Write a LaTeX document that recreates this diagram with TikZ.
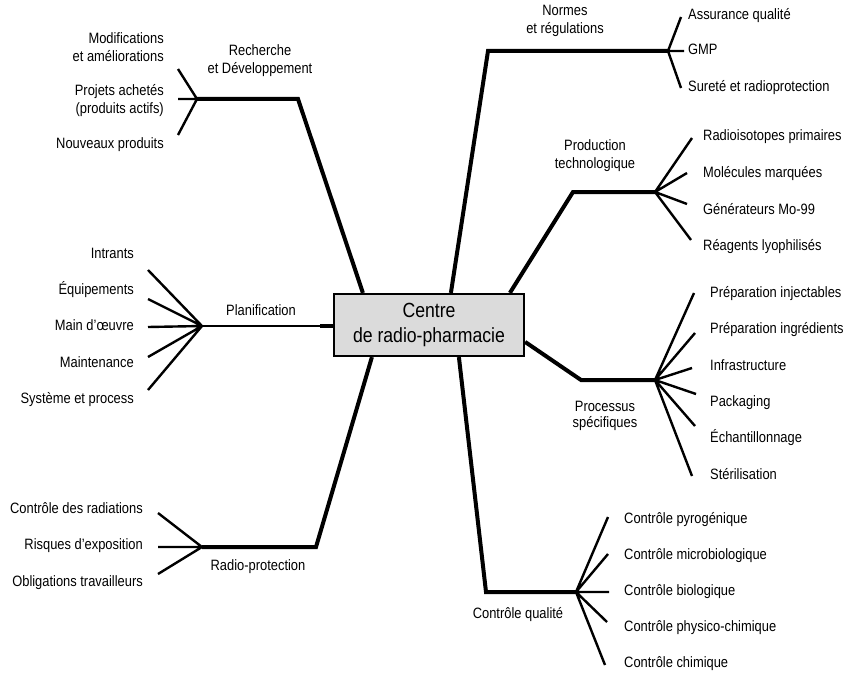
\documentclass[tikz,border=0pt]{standalone}
\usepackage{fontspec}
\setmainfont{Liberation Sans}[FakeStretch=0.86]
\usetikzlibrary{calc}
\begin{document}
\begin{tikzpicture}[x=1pt,y=-1pt,
  trunk/.style={line width=4pt, line join=miter},
  fan/.style={line width=2.4pt},
  lbl/.style={font=\fontsize{15}{18}\selectfont, inner sep=0pt},
  lblL/.style={lbl, anchor=mid east, align=right},
  lblR/.style={lbl, anchor=mid west, align=left},
  cat/.style={lbl, anchor=center, align=center}]
\useasboundingbox (0,0) rectangle (850,674);
% centre
\node[draw, fill=gray!28, line width=2.2pt, minimum width=190, minimum height=62,
      inner sep=0pt, align=center, font=\fontsize{20.5}{25}\selectfont] (C) at (429,325)
      {Centre\\de radio-pharmacie};

% ---------- Recherche et Developpement
\coordinate (rdB) at (298,99);
\coordinate (rdF) at (197,99);
\draw[trunk] ($(C.north west)+(30,0)$) -- (rdB) -- (rdF);
\coordinate (rd1) at (178,69);
\coordinate (rd2) at (178,99);
\coordinate (rd3) at (178,135);
\draw[fan] (rdF) -- (rd1) (rdF) -- (rd2) (rdF) -- (rd3);
\node[cat] (rdL) at (260,61) {Recherche\\et Développement};
\node[lbl, anchor=east, align=right] (rdt1) at (164,47) {Modifications\\et améliorations};
\node[lbl, anchor=east, align=right] (rdt2) at (164,101) {Projets achetés\\(produits actifs)};
\node[lblL] (rdt3) at (164,146) {Nouveaux produits};

% ---------- Normes et regulations
\coordinate (nrB) at (488,51);
\coordinate (nrF) at (668,51);
\draw[trunk] ($(C.north west)+(118,0)$) -- (nrB) -- (nrF);
\coordinate (nr1) at (681,17);
\coordinate (nr2) at (684,51);
\coordinate (nr3) at (681,88);
\draw[fan] (nrF) -- (nr1) (nrF) -- (nr2) (nrF) -- (nr3);
\node[cat] (nrL) at (565,21) {Normes\\et régulations};
\node[lblR] (nrt1) at (688,17) {Assurance qualité};
\node[lblR] (nrt2) at (688,52) {GMP};
\node[lblR] (nrt3) at (688,89) {Sureté et radioprotection};

% ---------- Production technologique
\coordinate (ptB) at (573,192);
\coordinate (ptF) at (655,192);
\draw[trunk] ($(C.north west)+(177,0)$) -- (ptB) -- (ptF);
\coordinate (pt1) at (692,138);
\coordinate (pt2) at (687,173);
\coordinate (pt3) at (687,204);
\coordinate (pt4) at (691,240);
\draw[fan] (ptF) -- (pt1) (ptF) -- (pt2) (ptF) -- (pt3) (ptF) -- (pt4);
\node[cat] (ptL) at (595,156) {Production\\technologique};
\node[lblR] (ptt1) at (703,138) {Radioisotopes primaires};
\node[lblR] (ptt2) at (703,175) {Molécules marquées};
\node[lblR] (ptt3) at (703,212) {Générateurs Mo-99};
\node[lblR] (ptt4) at (703,248) {Réagents lyophilisés};

% ---------- Processus specifiques
\coordinate (psB) at (581,380);
\coordinate (psF) at (655,380);
\draw[trunk] ($(C.north east)+(0,49)$) -- (psB) -- (psF);
\coordinate (ps1) at (694,293);
\coordinate (ps2) at (695,333);
\coordinate (ps3) at (692,368);
\coordinate (ps4) at (696,394);
\coordinate (ps5) at (695,426);
\coordinate (ps6) at (692,476);
\draw[fan] (psF) -- (ps1) (psF) -- (ps2) (psF) -- (ps3) (psF) -- (ps4) (psF) -- (ps5) (psF) -- (ps6);
\node[lbl, anchor=center, align=center, font=\fontsize{15}{16}\selectfont] (psL) at (605,416) {Processus\\spécifiques};
\node[lblR] (pst1) at (710,295) {Préparation injectables};
\node[lblR] (pst2) at (710,331) {Préparation ingrédients};
\node[lblR] (pst3) at (710,368) {Infrastructure};
\node[lblR] (pst4) at (710,404) {Packaging};
\node[lblR] (pst5) at (710,440) {Échantillonnage};
\node[lblR] (pst6) at (710,477) {Stérilisation};

% ---------- Controle qualite
\coordinate (cqB) at (486,592);
\coordinate (cqF) at (576,592);
\draw[trunk] ($(C.south west)+(126,0)$) -- (cqB) -- (cqF);
\coordinate (cq1) at (608,517);
\coordinate (cq2) at (608,554);
\coordinate (cq3) at (609,592);
\coordinate (cq4) at (607,622);
\coordinate (cq5) at (605,665);
\draw[fan] (cqF) -- (cq1) (cqF) -- (cq2) (cqF) -- (cq3) (cqF) -- (cq4) (cqF) -- (cq5);
\node[cat] (cqL) at (518,615) {Contrôle qualité};
\node[lblR] (cqt1) at (624,521) {Contrôle pyrogénique};
\node[lblR] (cqt2) at (624,557) {Contrôle microbiologique};
\node[lblR] (cqt3) at (624,593) {Contrôle biologique};
\node[lblR] (cqt4) at (624,629) {Contrôle physico-chimique};
\node[lblR] (cqt5) at (624,665) {Contrôle chimique};

% ---------- Radio-protection
\coordinate (rpB) at (316,547);
\coordinate (rpF) at (202,547);
\draw[trunk] ($(C.south west)+(39,0)$) -- (rpB) -- (rpF);
\coordinate (rp1) at (158,513);
\coordinate (rp2) at (158,547);
\coordinate (rp3) at (158,574);
\draw[fan] (rpF) -- (rp1) (rpF) -- (rp2) (rpF) -- (rp3);
\node[cat] (rpL) at (258,567) {Radio-protection};
\node[lblL] (rpt1) at (143,511) {Contrôle des radiations};
\node[lblL] (rpt2) at (143,547) {Risques d’exposition};
\node[lblL] (rpt3) at (143,584) {Obligations travailleurs};

% ---------- Planification
\coordinate (plF) at (202,326);
\coordinate (plS) at (320,326);
\draw[fan] (C.west |- plF) -- (plF);
\draw[trunk] (C.west |- plF) -- (plS);
\coordinate (pl1) at (148,270);
\coordinate (pl2) at (148,299);
\coordinate (pl3) at (148,327);
\coordinate (pl4) at (148,357);
\coordinate (pl5) at (148,390);
\draw[fan] (plF) -- (pl1) (plF) -- (pl2) (plF) -- (pl3) (plF) -- (pl4) (plF) -- (pl5);
\node[cat] (plL) at (261,310) {Planification};
\node[lblL] (plt1) at (134,256) {Intrants};
\node[lblL] (plt2) at (134,292) {Équipements};
\node[lblL] (plt3) at (134,328) {Main d’œuvre};
\node[lblL] (plt4) at (134,365) {Maintenance};
\node[lblL] (plt5) at (134,401) {Système et process};
\end{tikzpicture}
\end{document}
